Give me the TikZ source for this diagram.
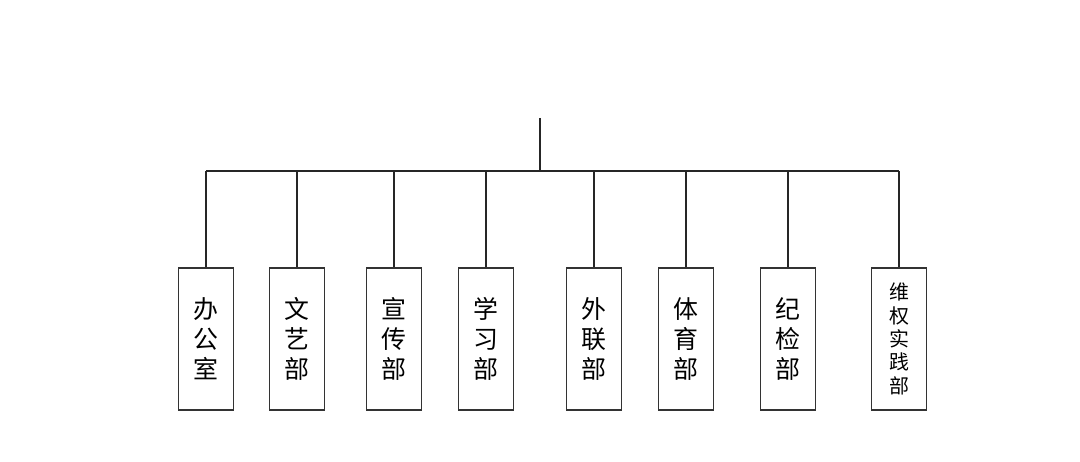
\documentclass[tikz,border=0pt]{standalone}
\usepackage{fontspec}
\newfontfamily\cjk{Noto Sans CJK SC}
\usetikzlibrary{positioning}

\begin{document}
\begin{tikzpicture}[x=1bp,y=-1bp,
    dept/.style={draw=black!80, line width=1.3bp, minimum width=55bp, minimum height=142bp,
        inner sep=0pt, align=center, font=\cjk\fontsize{25}{30}\selectfont},
    wire/.style={draw=black!85, line width=1.8bp}]
    \def\barY{171}
    \def\boxY{339}
    \useasboundingbox (0,0) rectangle (1080,462);

    \coordinate (top) at (540,118);
    \coordinate (mid) at (540,\barY);
    \foreach \i/\x/\name in {1/206/办\\公\\室, 2/297/文\\艺\\部, 3/394/宣\\传\\部,
        4/486/学\\习\\部, 5/594/外\\联\\部, 6/686/体\\育\\部, 7/788/纪\\检\\部} {
        \node[dept] (d\i) at (\x,\boxY) {\name};
        \coordinate (j\i) at (\x,\barY);
        \draw[wire] (j\i) -- (d\i.north);
    }
    % last box has five characters
    \node[dept, font=\cjk\fontsize{20}{23.5}\selectfont] (d8) at (899,\boxY) {维\\权\\实\\践\\部};
    \coordinate (j8) at (899,\barY);
    \draw[wire] (j8) -- (d8.north);

    \draw[wire] (j1) -- (j8);
    \draw[wire] (top) -- (mid);
\end{tikzpicture}
\end{document}
